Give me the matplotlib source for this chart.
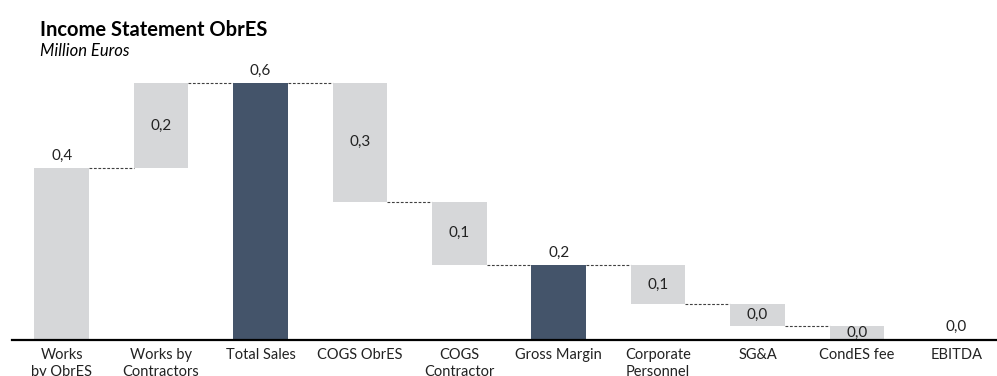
import matplotlib.pyplot as plt
import numpy as np

plt.rcParams['font.family'] = ['Lato', 'DejaVu Sans']

categories = ['Works\nby ObrES', 'Works by\nContractors', 'Total Sales', 'COGS ObrES',
              'COGS\nContractor', 'Gross Margin', 'Corporate\nPersonnel', 'SG&A',
              'CondES fee', 'EBITDA']
values = [0.370, 0.184, 0.554, -0.256, -0.137, 0.161, -0.084, -0.048, -0.029, 0.0]
kinds = ['start', 'delta', 'total', 'delta', 'delta', 'total', 'delta', 'delta', 'delta', 'total']

grey = '#D6D7D9'
dark = '#44546A'
w = 0.55

fig = plt.figure(figsize=(9.97, 3.76), dpi=100)
ax = fig.add_axes([12/997, 36.5/376, 985/997, 277.8/376])

x = np.arange(len(categories))
bottoms = []
heights = []
levels = []
run = 0.0
for v, k in zip(values, kinds):
    if k == 'total':
        bottoms.append(0.0)
        heights.append(run)
    elif k == 'start':
        bottoms.append(0.0)
        heights.append(v)
        run = v
    else:
        if v >= 0:
            bottoms.append(run)
            heights.append(v)
        else:
            bottoms.append(run + v)
            heights.append(-v)
        run = run + v
    levels.append(run)

colors = [dark if k == 'total' else grey for k in kinds]
ax.bar(x, heights, bottom=bottoms, width=w, color=colors, zorder=2)

# connectors
for i in range(len(x) - 1):
    ax.plot([x[i] + w/2, x[i+1] - w/2], [levels[i], levels[i]],
            color='#404040', lw=0.8, ls=(0, (2.5, 1.5)), zorder=1)

def fmt(v):
    return f"{abs(v):.1f}".replace('.', ',')

for i, (v, k) in enumerate(zip(values, kinds)):
    if k == 'delta':
        ax.text(x[i], bottoms[i] + heights[i]/2, fmt(v), ha='center', va='center',
                fontsize=11, color='#222222', zorder=3)
    else:
        top = bottoms[i] + heights[i]
        ax.annotate(fmt(heights[i]), (x[i], top), xytext=(0, 4), textcoords='offset points',
                    ha='center', va='bottom', fontsize=11, color='#222222')

ax.set_xlim(-0.5, 9.41)
ax.set_ylim(0, 0.6)
ax.set_yticks([])
ax.set_xticks(x)
ax.set_xticklabels(categories, fontsize=10.5, color='#222222', linespacing=1.25)
ax.tick_params(axis='x', length=0, pad=6)
for s in ['top', 'right', 'left']:
    ax.spines[s].set_visible(False)
ax.spines['bottom'].set_linewidth(1.6)
ax.spines['bottom'].set_color('black')

fig.text(40/997, 1 - 36/376, 'Income Statement ObrES', fontsize=14.5, fontweight='bold',
         ha='left', va='baseline', color='black')
fig.text(40/997, 1 - 56/376, 'Million Euros', fontsize=12, style='italic',
         ha='left', va='baseline', color='black')

fig.savefig('out.png', dpi=100)
